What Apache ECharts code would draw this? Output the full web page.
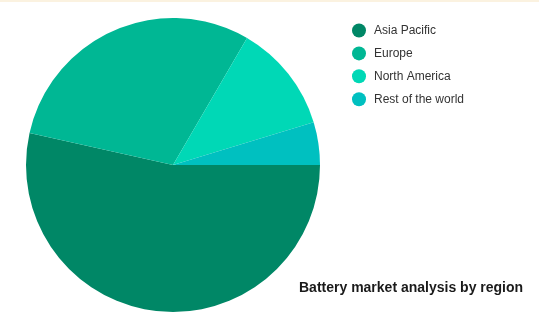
<!DOCTYPE html>
<html>
<head>
<meta charset="utf-8">
<script src="https://cdn.jsdelivr.net/npm/echarts@6/dist/echarts.min.js"></script>
<style>
html,body{margin:0;padding:0;background:#fff;}
#c{width:539px;height:328px;}
</style>
</head>
<body>
<div id="c"></div>
<script>
const categories = ["Asia Pacific", "Europe", "North America", "Rest of the world"];
const values = [53.5, 29.9, 11.9, 4.7];
const colors = ["#008766", "#00b794", "#00d8b6", "#00c0c0"];
const titleText = "Battery market analysis by region";

const chart = echarts.init(document.getElementById('c'), null, {renderer: 'canvas'});
chart.setOption({
  animation: false,
  backgroundColor: '#ffffff',
  color: colors,
  title: {
    text: titleText,
    left: 299,
    top: 281,
    textStyle: {fontFamily: 'Liberation Sans, Arial, sans-serif', fontSize: 14, fontWeight: 'bold', color: '#1a1a1a'},
    padding: 0
  },
  graphic: [{
    type: 'rect', left: 0, top: 0, shape: {width: 539, height: 2},
    style: {fill: '#fbf2e0'}, silent: true
  }],
  legend: {
    orient: 'vertical',
    left: 352,
    top: 23.5,
    icon: 'circle',
    itemWidth: 14,
    itemHeight: 14,
    itemGap: 8.9,
    padding: 0,
    data: categories,
    textStyle: {fontFamily: 'Liberation Sans, Arial, sans-serif', fontSize: 12, color: '#333', padding: [0, 0, 0, 3]}
  },
  series: [{
    type: 'pie',
    center: [173, 165],
    radius: 147,
    startAngle: 0,
    clockwise: true,
    label: {show: false},
    labelLine: {show: false},
    itemStyle: {borderWidth: 0},
    emphasis: {disabled: true},
    data: categories.map((n, i) => ({name: n, value: values[i]}))
  }]
});
</script>
</body>
</html>
